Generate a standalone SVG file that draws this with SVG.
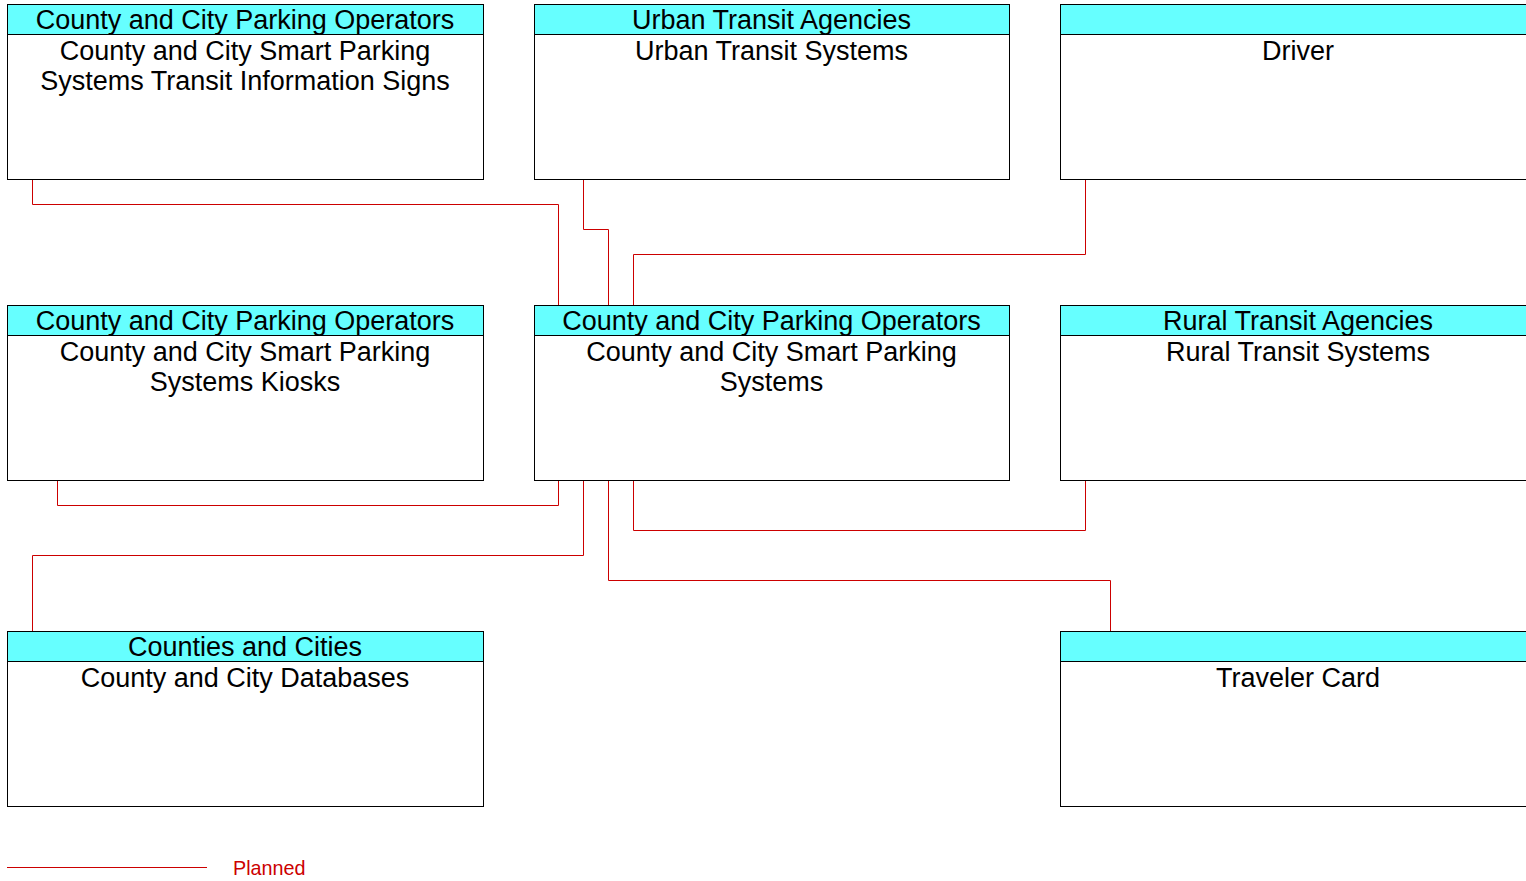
<svg xmlns="http://www.w3.org/2000/svg" width="1526" height="881" viewBox="0 0 1526 881">
<style>
.box{fill:#ffffff;stroke:#000000;stroke-width:1}
.hdr{fill:#66ffff;stroke:#000000;stroke-width:1}
.t{font-family:"Liberation Sans",Arial,sans-serif;font-size:27px;fill:#000000;text-anchor:middle}
.c{fill:none;stroke:#cc0000;stroke-width:1}
.lg{font-family:"Liberation Sans",Arial,sans-serif;font-size:19.8px;fill:#cc0000}
</style>
<rect x="0" y="0" width="1526" height="881" fill="#ffffff"/>
<g id="connectors">
<polyline class="c" points="32.5,179.5 32.5,204.5 558.5,204.5 558.5,305.5"/>
<polyline class="c" points="583.5,179.5 583.5,229.5 608.5,229.5 608.5,305.5"/>
<polyline class="c" points="1085.5,179.5 1085.5,254.5 633.5,254.5 633.5,305.5"/>
<polyline class="c" points="57.5,480.5 57.5,505.5 558.5,505.5 558.5,480.5"/>
<polyline class="c" points="32.5,631.5 32.5,555.5 583.5,555.5 583.5,480.5"/>
<polyline class="c" points="1085.5,480.5 1085.5,530.5 633.5,530.5 633.5,480.5"/>
<polyline class="c" points="1110.5,631.5 1110.5,580.5 608.5,580.5 608.5,480.5"/>
</g>
<g id="node-signs">
<rect class="box" x="7.5" y="4.5" width="476" height="175"/>
<rect class="hdr" x="7.5" y="4.5" width="476" height="30"/>
<text class="t" x="245" y="28.5">County and City Parking Operators</text>
<text class="t" x="245" y="59.5">County and City Smart Parking</text>
<text class="t" x="245" y="89.5">Systems Transit Information Signs</text>
</g>
<g id="node-urban">
<rect class="box" x="534.5" y="4.5" width="475" height="175"/>
<rect class="hdr" x="534.5" y="4.5" width="475" height="30"/>
<text class="t" x="771.5" y="28.5">Urban Transit Agencies</text>
<text class="t" x="771.5" y="59.5">Urban Transit Systems</text>
</g>
<g id="node-driver">
<rect class="box" x="1060.5" y="4.5" width="476" height="175"/>
<rect class="hdr" x="1060.5" y="4.5" width="476" height="30"/>
<text class="t" x="1298" y="59.5">Driver</text>
</g>
<g id="node-kiosks">
<rect class="box" x="7.5" y="305.5" width="476" height="175"/>
<rect class="hdr" x="7.5" y="305.5" width="476" height="30"/>
<text class="t" x="245" y="329.5">County and City Parking Operators</text>
<text class="t" x="245" y="360.5">County and City Smart Parking</text>
<text class="t" x="245" y="390.5">Systems Kiosks</text>
</g>
<g id="node-central">
<rect class="box" x="534.5" y="305.5" width="475" height="175"/>
<rect class="hdr" x="534.5" y="305.5" width="475" height="30"/>
<text class="t" x="771.5" y="329.5">County and City Parking Operators</text>
<text class="t" x="771.5" y="360.5">County and City Smart Parking</text>
<text class="t" x="771.5" y="390.5">Systems</text>
</g>
<g id="node-rural">
<rect class="box" x="1060.5" y="305.5" width="476" height="175"/>
<rect class="hdr" x="1060.5" y="305.5" width="476" height="30"/>
<text class="t" x="1298" y="329.5">Rural Transit Agencies</text>
<text class="t" x="1298" y="360.5">Rural Transit Systems</text>
</g>
<g id="node-databases">
<rect class="box" x="7.5" y="631.5" width="476" height="175"/>
<rect class="hdr" x="7.5" y="631.5" width="476" height="30"/>
<text class="t" x="245" y="655.5">Counties and Cities</text>
<text class="t" x="245" y="686.5">County and City Databases</text>
</g>
<g id="node-card">
<rect class="box" x="1060.5" y="631.5" width="476" height="175"/>
<rect class="hdr" x="1060.5" y="631.5" width="476" height="30"/>
<text class="t" x="1298" y="686.5">Traveler Card</text>
</g>
<g id="legend">
<line class="c" x1="7" y1="867.5" x2="207" y2="867.5"/>
<text class="lg" x="233" y="875">Planned</text>
</g>
</svg>
